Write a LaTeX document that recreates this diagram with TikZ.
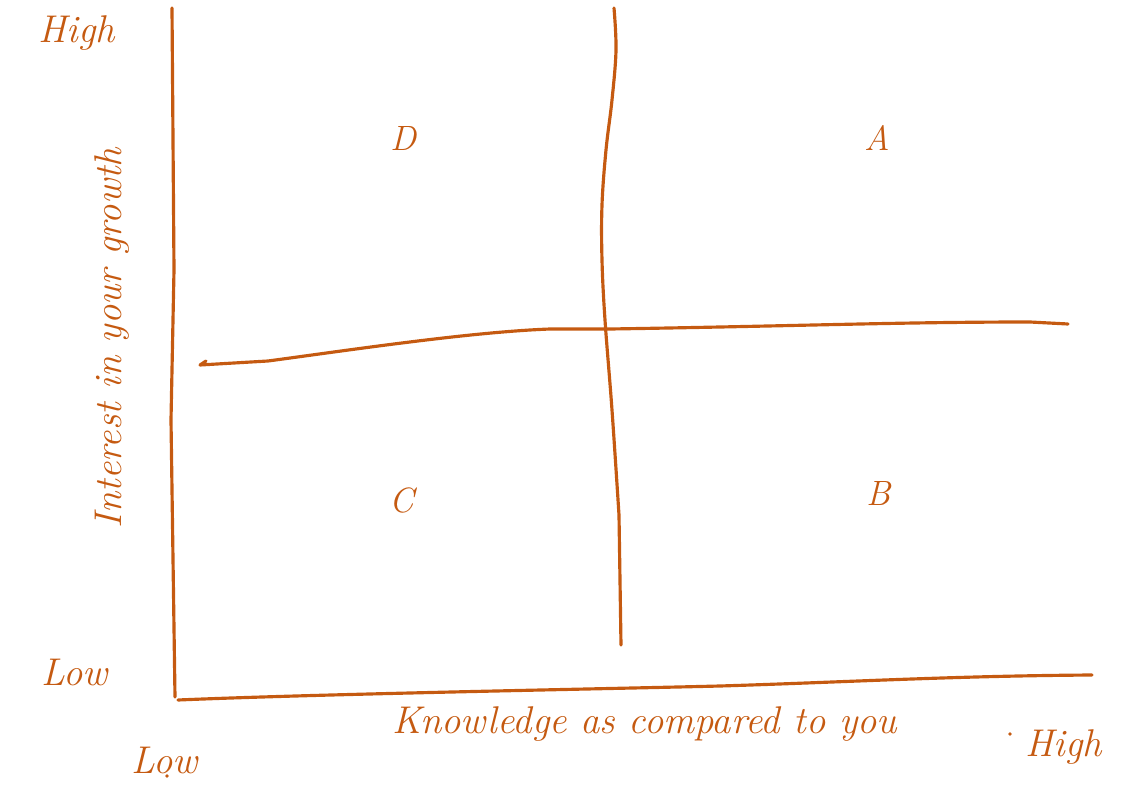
\documentclass[tikz,border=0pt]{standalone}
\definecolor{ink}{HTML}{C55A11}
\tikzset{
  pen/.style={draw=ink, line width=1.8pt, line cap=round, line join=round},
  lbl/.style={text=ink, font=\fontsize{22}{26}\selectfont\itshape, inner sep=0pt},
  qlbl/.style={text=ink, font=\fontsize{20}{24}\selectfont\itshape, inner sep=0pt},
}
\begin{document}
\begin{tikzpicture}[x=0.02cm, y=-0.02cm]
\useasboundingbox (0,0) rectangle (1134,798);
% coordinates
\coordinate (vl1) at (172,8);
\coordinate (vl2) at (175,697);
\coordinate (b1) at (178,700);
\coordinate (b2) at (1092,675);
\coordinate (m1) at (614,8);
\coordinate (m2) at (621,645);
\coordinate (h1) at (200,365);
\coordinate (h2) at (1068,324);
\coordinate (tick) at (206,361);
% left axis
\draw[pen] (vl1) -- (174,270) -- (171,420) -- (vl2);
% bottom axis
\draw[pen] (b1) .. controls (320,694) and (600,689) .. (720,686) .. controls (850,682) and (950,676) .. (b2);
% middle vertical
\draw[pen] plot[smooth, tension=0.6] coordinates {(614,8) (616,50) (612,100) (606,150) (602,205) (602,260) (605,320) (612,410) (619,515)} -- (m2);
% horizontal
\draw[pen] (tick) -- (h1) -- (268,361) .. controls (350,350) and (470,332) .. (550,329) -- (610,329) .. controls (800,326) and (900,322) .. (1030,322) -- (h2);
% labels
\node[lbl] (hightop) at (77,33) {High};
\node[lbl, rotate=90] (interest) at (112,338) {Interest in your growth};
\node[lbl] (lowleft) at (75,672) {Low};
\node[lbl] (lowbottom) at (165,760) {Low};
\node[lbl] (knowledge) at (645,724) {Knowledge as compared to you};
\node[lbl] (highright) at (1064,747) {High};
\fill[ink] (1010,734) circle (1.8);
\fill[ink] (167,776) circle (1.8);
\node[qlbl] (D) at (403,138) {D};
\node[qlbl] (A) at (877,138) {A};
\node[qlbl] (C) at (402,500) {C};
\node[qlbl] (B) at (879,493) {B};
\end{tikzpicture}
\end{document}
